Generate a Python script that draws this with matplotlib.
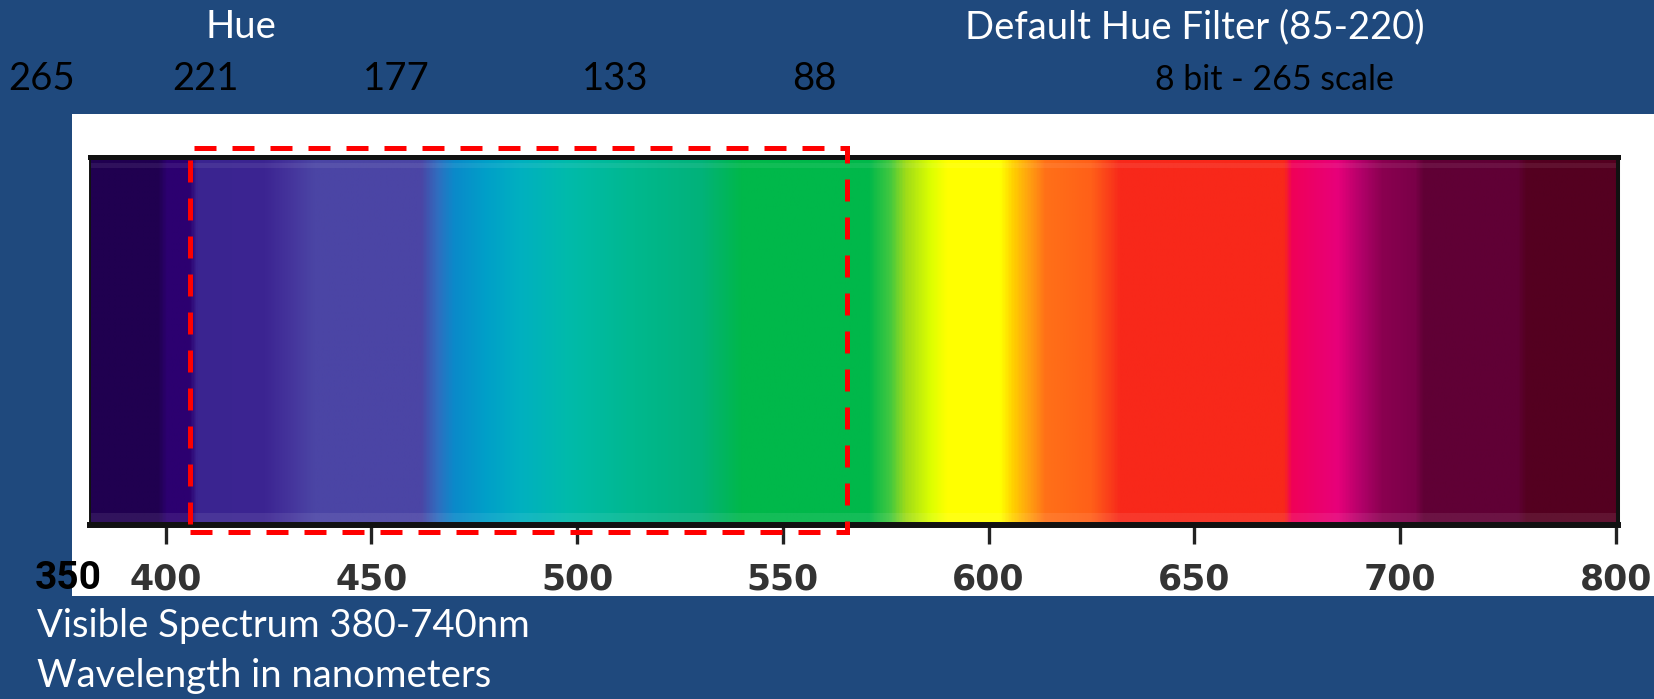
import numpy as np
import matplotlib
matplotlib.use("Agg")
import matplotlib.pyplot as plt
from matplotlib.colors import LinearSegmentedColormap
from matplotlib.patches import Rectangle

# spectrum colour stops (wavelength nm, colour)
stop_nm = [381.6, 398, 400, 405.5, 407.5, 424, 430, 436, 462, 466, 470, 478, 486, 498,
           514, 530, 540, 571, 576, 580, 586, 590, 603, 606, 610, 614, 625, 630, 632,
           672, 674, 685, 691, 696, 704, 706, 729, 731, 753]
stop_col = ["#200050", "#200050", "#2c0070", "#2c0070", "#3a2490", "#3c2592", "#45349c",
            "#4b45a5", "#4b45a5", "#2f6ec0", "#0a8aca", "#00a0c8", "#00b0c0", "#00bbaa",
            "#00b88e", "#02b27a", "#00b84a", "#00b84a", "#40c840", "#a0dc18", "#ddff00",
            "#ffff00", "#ffff00", "#ffd000", "#ffa010", "#ff7018", "#ff6018", "#fa3a1a",
            "#f8281a", "#f8281a", "#f00058", "#e8007a", "#b00068", "#8a0050", "#7a0048",
            "#600035", "#600035", "#540020", "#540020"]

tick_nm = [400, 450, 500, 550, 600, 650, 700, 752.5]
tick_labels = ["400", "450", "500", "550", "600", "650", "700", "800"]

hue_labels = ["265", "221", "177", "133", "88"]
hue_xpx = [42, 206, 396, 615, 814]

filter_nm = (406, 565.5)   # red dashed box

bg = "#1f497d"
W, H = 1654, 699
fig = plt.figure(figsize=(W / 100, H / 100), dpi=100, facecolor=bg)

def fx(px):
    return px / W

def fy(py):
    return 1 - py / H

# white panel
panel = fig.add_axes([fx(72), fy(596), fx(1654 - 72), (596 - 114) / H])
panel.set_facecolor("white")
panel.set_xticks([])
panel.set_yticks([])
for s in panel.spines.values():
    s.set_visible(False)

# spectrum bar
ax = fig.add_axes([fx(90), fy(525), fx(1618 - 90), (525 - 157) / H])
lo, hi = stop_nm[0], stop_nm[-1]
nodes = [(v - lo) / (hi - lo) for v in stop_nm]
cmap = LinearSegmentedColormap.from_list("spec", list(zip(nodes, stop_col)), N=1024)
grad = np.linspace(lo, hi, 1500)[None, :]
ax.imshow(grad, cmap=cmap, vmin=lo, vmax=hi, extent=(lo, 753.0, 0, 1), aspect="auto",
          interpolation="bilinear")
ax.set_xlim(lo, 753.0)
ax.set_ylim(0, 1)
ax.axhspan(0.008, 0.033, color="white", alpha=0.08, lw=0)
ax.axhspan(0.970, 0.984, color="white", alpha=0.07, lw=0)
ax.spines["top"].set_linewidth(3.6)
ax.spines["bottom"].set_linewidth(4.3)
ax.spines["left"].set_linewidth(1.4)
ax.spines["right"].set_linewidth(2.9)
for s in ax.spines.values():
    s.set_color("#111111")
ax.set_yticks([])
ax.set_xticks(tick_nm, tick_labels)
ax.tick_params(axis="x", direction="out", length=14, width=2.4, color="#222222",
               pad=13, labelsize=25, labelcolor="#333333")
for t in ax.get_xticklabels():
    t.set_fontweight("bold")

ax.add_patch(Rectangle((filter_nm[0], -0.019), filter_nm[1] - filter_nm[0], 1.019 + 0.025,
                       fill=False, edgecolor="#ff0000", lw=3.6, linestyle=(0, (4.4, 3.2)),
                       clip_on=False, zorder=5))

# texts
font = ["Lato", "DejaVu Sans"]
fs = 27.5
fig.text(fx(241), fy(38), "Hue", color="white", fontsize=fs, family=font,
         ha="center", va="baseline")
fig.text(fx(1195), fy(38), "Default Hue Filter (85-220)", color="white", fontsize=fs,
         family=font, ha="center", va="baseline")
for lab, xp in zip(hue_labels, hue_xpx):
    fig.text(fx(xp), fy(90), lab, color="black", fontsize=fs, family=font,
             ha="center", va="baseline")
fig.text(fx(1274), fy(90), "8 bit - 265 scale", color="black", fontsize=24.4, family=font,
         ha="center", va="baseline")
fig.text(fx(35), fy(589), "350", color="black", fontsize=28, family=["Roboto", "DejaVu Sans"],
         fontweight="bold", ha="left", va="baseline")
fig.text(fx(37), fy(637), "Visible Spectrum 380-740nm", color="white", fontsize=fs,
         family=font, ha="left", va="baseline")
fig.text(fx(37), fy(687), "Wavelength in nanometers", color="white", fontsize=fs,
         family=font, ha="left", va="baseline")

fig.savefig("out.png", dpi=100, facecolor=bg)
